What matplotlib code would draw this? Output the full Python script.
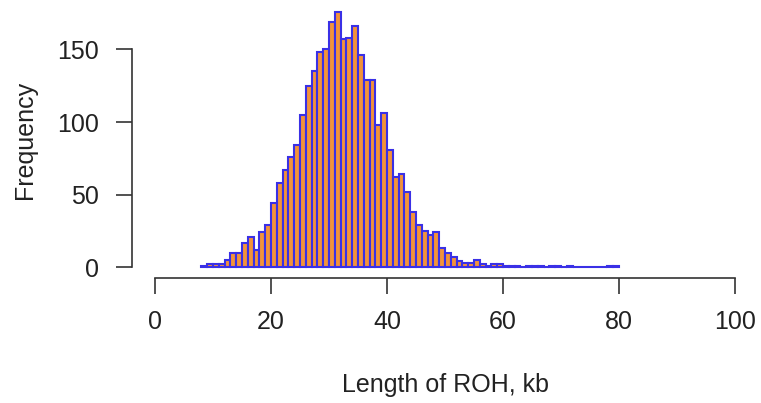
import matplotlib
matplotlib.use("Agg")
import matplotlib.pyplot as plt
import numpy as np

# Histogram of ROH lengths (kb), bins of width 1 from 8 to 80
bin_edges = list(range(8, 81))
counts = [1, 2, 2, 2, 5, 10, 10, 17, 21, 12,      # 8-17
          24, 29, 44, 58, 67, 76, 84, 105, 125, 135,  # 18-27
          148, 150, 169, 176, 157, 158, 166, 146, 129, 129,  # 28-37
          98, 106, 81, 62, 64, 52, 38, 29, 25, 22,   # 38-47
          24, 13, 10, 7, 4, 3, 3, 5, 2, 1,            # 48-57
          2, 2, 1, 1, 1, 0, 1, 1, 1, 0,               # 58-67
          1, 1, 0, 1, 0, 0, 0, 0, 0, 0,               # 68-77
          1, 1]                                       # 78-79
x_ticks = [0, 20, 40, 60, 80, 100]
y_ticks = [0, 50, 100, 150]
x_label = "Length of ROH, kb"
y_label = "Frequency"

plt.rcParams['font.family'] = ['Liberation Sans', 'DejaVu Sans']

W, H = 761, 403
fig = plt.figure(figsize=(W / 100, H / 100), dpi=100)
left_px, right_px = 131.8, 758.2
top_px, bottom_px = 1.5, 277.5
ax = fig.add_axes([left_px / W, 1 - bottom_px / H,
                   (right_px - left_px) / W, (bottom_px - top_px) / H])

ax.hist(bin_edges[:-1], bins=bin_edges, weights=counts,
        color='#F2933A', edgecolor='#3A30E6', linewidth=1.5)

ax.set_xlim(-4, 104)
ax.set_ylim(-7.04, 183.04)

for s in ['top', 'right']:
    ax.spines[s].set_visible(False)
ax.spines['left'].set_bounds(0, 150)
ax.spines['bottom'].set_bounds(0, 100)
for s in ['left', 'bottom']:
    ax.spines[s].set_color('#333333')
    ax.spines[s].set_linewidth(1.2)

ax.set_xticks(x_ticks)
ax.set_yticks(y_ticks)
ax.set_xticklabels([str(v) for v in x_ticks])
ax.set_yticklabels([str(v) for v in y_ticks])
ax.tick_params(axis='both', direction='out', length=11.5, width=1.2,
               color='#333333', labelsize=18, labelcolor='#222222')
ax.tick_params(axis='y', pad=12)
ax.tick_params(axis='x', pad=12)

fig.text(25 / W, 1 - 140 / H, y_label, rotation=90, ha='center', va='center',
         fontsize=18, color='#222222')
fig.text(445 / W, 1 - 385 / H, x_label, ha='center', va='center',
         fontsize=18, color='#222222')

fig.savefig("out.png", dpi=100)
